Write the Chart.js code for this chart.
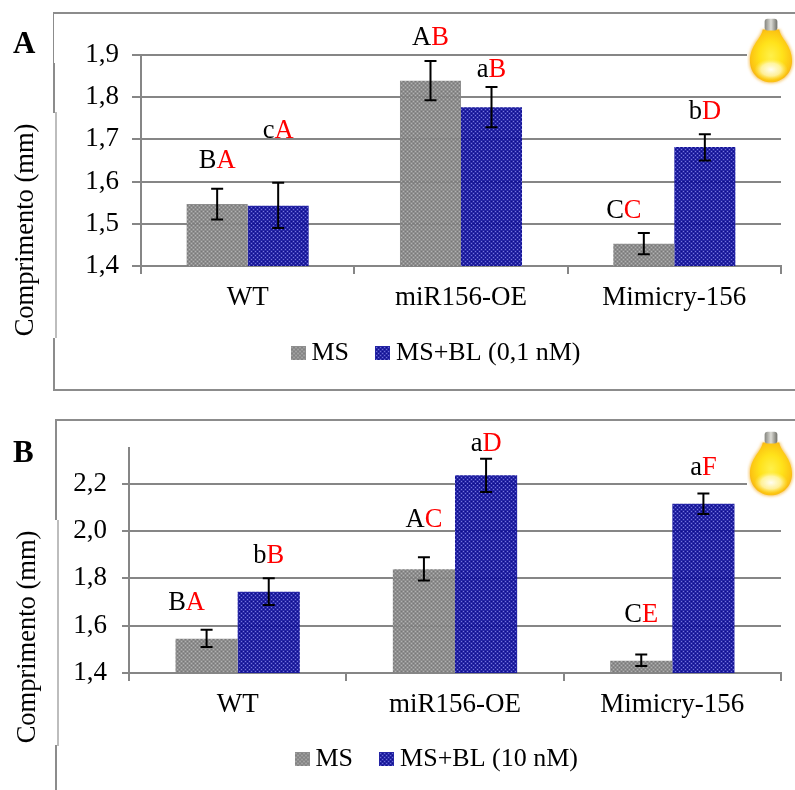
<!DOCTYPE html>
<html>
<head>
<meta charset="utf-8">
<title>Comprimento</title>
<script src="https://cdn.jsdelivr.net/npm/chart.js@4"></script>
<style>
  html, body { margin: 0; background: #fff; }
  #page { position: relative; width: 795px; height: 790px; overflow: hidden; }
  canvas { position: absolute; left: 0; }
  #chartA { top: 0; }
  #chartB { top: 400px; }
  .rule { position: absolute; background: #8c8c8c; }
  .rule.soft { background: #bdbdbd; }
  .bulb { position: absolute; left: 747px; width: 48px; height: 72px; }
</style>
</head>
<body>
<div id="page">
  <!-- frame left over from the pasted figure panels -->
  <div class="rule" style="left:53px;top:12px;width:742px;height:2px"></div>
  <div class="rule" style="left:53px;top:389px;width:742px;height:2px"></div>
  <div class="rule" style="left:53px;top:13px;width:1px;height:50px"></div>
  <div class="rule" style="left:53px;top:63px;width:2px;height:50px"></div>
  <div class="rule soft" style="left:55px;top:112px;width:2px;height:226px"></div>
  <div class="rule" style="left:53px;top:338px;width:2px;height:52px"></div>
  <div class="rule" style="left:55px;top:419px;width:740px;height:2px"></div>
  <div class="rule" style="left:55px;top:420px;width:2px;height:100px"></div>
  <div class="rule soft" style="left:57px;top:520px;width:2px;height:226px"></div>
  <div class="rule" style="left:55px;top:745px;width:2px;height:45px"></div>

  <canvas id="chartA" width="795" height="400" aria-label="Comprimento (mm), painel A"></canvas>
  <canvas id="chartB" width="795" height="390" aria-label="Comprimento (mm), painel B"></canvas>

  <svg class="bulb" style="top:15px" viewBox="0 0 49 72"><use href="#bulb"></use></svg>
  <svg class="bulb" style="top:428px" viewBox="0 0 49 72"><use href="#bulb"></use></svg>
  <svg width="0" height="0" style="position:absolute">
    <defs>
      <radialGradient id="bulbBody" cx="0.5" cy="0.5" r="0.6">
        <stop offset="0" stop-color="#fff04a"></stop>
        <stop offset="0.45" stop-color="#ffe21a"></stop>
        <stop offset="0.8" stop-color="#fcc412"></stop>
        <stop offset="1" stop-color="#eb9f20"></stop>
      </radialGradient>
      <radialGradient id="bulbLow" cx="0.5" cy="0.5" r="0.5">
        <stop offset="0" stop-color="#ffffff" stop-opacity="0.95"></stop>
        <stop offset="0.6" stop-color="#fffbd0" stop-opacity="0.7"></stop>
        <stop offset="1" stop-color="#fff27a" stop-opacity="0"></stop>
      </radialGradient>
      <linearGradient id="bulbCap" x1="0" x2="1" y1="0" y2="0">
        <stop offset="0" stop-color="#85857f"></stop>
        <stop offset="0.5" stop-color="#dcdcd6"></stop>
        <stop offset="1" stop-color="#6f6f68"></stop>
      </linearGradient>
      <filter id="bulbGlow" x="-20%" y="-20%" width="140%" height="140%">
        <feGaussianBlur stdDeviation="1.8"></feGaussianBlur>
      </filter>
      <g id="bulb">
        <rect x="0" y="0" width="49" height="72" fill="#fff"></rect>
        <path d="M15 14 L34 14 C35 22 47 29 47 46 C47 60 37 69 24.5 69 C12 69 2 60 2 46 C2 29 14 22 15 14 Z" fill="#f7c86a" filter="url(#bulbGlow)"></path>
        <path d="M16 14 L33 14 C34 23 46 30 46 46 C46 59 36 68 24.5 68 C13 68 3 59 3 46 C3 30 15 23 16 14 Z" fill="url(#bulbBody)"></path>
        <ellipse cx="24.5" cy="55" rx="17" ry="11" fill="url(#bulbLow)"></ellipse>
        <rect x="18" y="3" width="13" height="12" rx="3" fill="url(#bulbCap)"></rect>
      </g>
    </defs>
  </svg>
</div>

<script>
const categories = ['WT', 'miR156-OE', 'Mimicry-156'];

// painel A
const labelMsA = 'MS';
const labelBlA = 'MS+BL (0,1 nM)';
const yTicksA = [1.4, 1.5, 1.6, 1.7, 1.8, 1.9];
const msA = [1.547, 1.839, 1.453];
const blA = [1.543, 1.776, 1.682];
const msAHigh = [1.583, 1.886, 1.478];
const msALow = [1.51, 1.793, 1.428];
const blAHigh = [1.597, 1.824, 1.712];
const blALow = [1.49, 1.729, 1.65];
const lettersMsA = ['BA', 'AB', 'CC'];
const lettersBlA = ['cA', 'aB', 'bD'];

// painel B
const labelMsB = 'MS';
const labelBlB = 'MS+BL (10 nM)';
const yTicksB = [1.4, 1.6, 1.8, 2.0, 2.2];
const msB = [1.545, 1.838, 1.452];
const blB = [1.743, 2.235, 2.115];
const msBHigh = [1.583, 1.889, 1.478];
const msBLow = [1.51, 1.791, 1.43];
const blBHigh = [1.8, 2.305, 2.158];
const blBLow = [1.687, 2.164, 2.071];
const lettersMsB = ['BA', 'AC', 'CE'];
const lettersBlB = ['bB', 'aD', 'aF'];

const AXIS_COLOR = '#868686';
const SERIF = '"Liberation Serif", "Times New Roman", serif';

// dotted office-style fill, a bit see-through so the grid shows behind the bars
function makeTile(base, light, dark) {
  const tile = document.createElement('canvas');
  tile.width = 4;
  tile.height = 4;
  const c = tile.getContext('2d');
  c.globalAlpha = 0.93;
  c.fillStyle = base;
  c.fillRect(0, 0, 4, 4);
  c.fillStyle = light;
  c.fillRect(1, 1, 1, 1);
  c.fillRect(3, 3, 1, 1);
  c.fillStyle = dark;
  c.fillRect(3, 1, 1, 1);
  c.fillRect(1, 3, 1, 1);
  return tile;
}

function makeSwatch(tile) {
  const swatch = document.createElement('canvas');
  swatch.width = 15;
  swatch.height = 14;
  const c = swatch.getContext('2d');
  c.fillStyle = c.createPattern(tile, 'repeat');
  c.fillRect(0, 0, 15, 14);
  return swatch;
}

const grayTile = makeTile('#858585', '#b4b4b4', '#767676');
const blueTile = makeTile('#14149e', '#7c7ce0', '#0c0c88');

// error bars, significance letters, side title and panel letter
const panelExtras = {
  id: 'panelExtras',
  afterLayout(chart, args, opts) {
    const legend = chart.legend;
    const w = legend.right - legend.left;
    legend.left = opts.legendLeft;
    legend.right = opts.legendLeft + w;
    legend.top = opts.legendTop;
  },
  afterDatasetsDraw(chart, args, opts) {
    const { ctx, scales: { y } } = chart;
    ctx.save();
    chart.data.datasets.forEach((ds, d) => {
      const bars = chart.getDatasetMeta(d).data;
      bars.forEach((bar, i) => {
        const top = y.getPixelForValue(ds.errHigh[i]);
        const low = y.getPixelForValue(ds.errLow[i]);
        ctx.strokeStyle = '#000';
        ctx.lineWidth = 2;
        ctx.beginPath();
        ctx.moveTo(bar.x, top);
        ctx.lineTo(bar.x, low);
        ctx.moveTo(bar.x - 6, top);
        ctx.lineTo(bar.x + 6, top);
        ctx.moveTo(bar.x - 6, low);
        ctx.lineTo(bar.x + 6, low);
        ctx.stroke();

        // first letter black, second one red
        const place = opts.letterPlace[d][i];
        const pair = ds.letters[i];
        ctx.font = `26.5px ${SERIF}`;
        ctx.textAlign = 'left';
        ctx.textBaseline = 'alphabetic';
        const w0 = ctx.measureText(pair[0]).width;
        const w1 = ctx.measureText(pair[1]).width;
        const x0 = bar.x + place[0] - (w0 + w1) / 2;
        const base = top - place[1];
        ctx.fillStyle = '#000';
        ctx.fillText(pair[0], x0, base);
        ctx.fillStyle = '#ff0000';
        ctx.fillText(pair[1], x0 + w0, base);
      });
    });

    ctx.fillStyle = '#000';
    ctx.font = `bold 31px ${SERIF}`;
    ctx.textAlign = 'left';
    ctx.fillText(opts.panel, 13, opts.panelBase);

    ctx.save();
    ctx.translate(opts.titleX, opts.titleY);
    ctx.rotate(-Math.PI / 2);
    ctx.font = `26.5px ${SERIF}`;
    ctx.textAlign = 'center';
    ctx.fillText('Comprimento (mm)', 0, 0);
    ctx.restore();
    ctx.restore();
  },
};

function drawPanel(id, cfg) {
  return new Chart(document.getElementById(id), {
    type: 'bar',
    data: {
      labels: categories,
      datasets: [
        {
          label: cfg.labelMs,
          data: cfg.ms,
          errHigh: cfg.msHigh,
          errLow: cfg.msLow,
          letters: cfg.lettersMs,
          backgroundColor: (c) => c.chart.ctx.createPattern(grayTile, 'repeat'),
        },
        {
          label: cfg.labelBl,
          data: cfg.bl,
          errHigh: cfg.blHigh,
          errLow: cfg.blLow,
          letters: cfg.lettersBl,
          backgroundColor: (c) => c.chart.ctx.createPattern(blueTile, 'repeat'),
        },
      ],
    },
    options: {
      responsive: false,
      animation: false,
      devicePixelRatio: 1,
      events: [],
      layout: { padding: { left: 0, top: cfg.top, right: 14, bottom: 0 } },
      datasets: { bar: { categoryPercentage: 0.572, barPercentage: 1 } },
      plugins: {
        tooltip: { enabled: false },
        title: { display: false },
        legend: {
          position: 'bottom',
          align: 'start',
          labels: {
            color: '#000',
            font: { family: SERIF, size: 26 },
            usePointStyle: true,
            boxWidth: 1,
            boxHeight: 14,
            padding: cfg.legendGap,
            generateLabels: (chart) => chart.data.datasets.map((ds, i) => ({
              text: ds.label,
              datasetIndex: i,
              pointStyle: makeSwatch(i === 0 ? grayTile : blueTile),
              fontColor: '#000',
              lineWidth: 0,
              strokeStyle: 'transparent',
              fillStyle: 'transparent',
            })),
          },
        },
        panelExtras: {
          panel: cfg.panel,
          panelBase: cfg.panelBase,
          titleX: cfg.titleX,
          titleY: cfg.titleY,
          legendLeft: cfg.legendLeft,
          legendTop: cfg.legendTop,
          letterPlace: cfg.letterPlace,
        },
      },
      scales: {
        x: {
          afterFit: (scale) => {
            scale.height = cfg.below - scale.chart.legend.height;
          },
          grid: {
            color: AXIS_COLOR,
            lineWidth: 2,
            drawOnChartArea: false,
            tickLength: 8,
          },
          border: { color: AXIS_COLOR, width: 2 },
          ticks: {
            color: '#000',
            padding: 8,
            maxRotation: 0,
            font: { family: SERIF, size: 27 },
          },
        },
        y: {
          min: cfg.yMin,
          max: cfg.yMax,
          afterFit: (scale) => {
            scale.width = cfg.left;
          },
          afterBuildTicks: (scale) => {
            scale.ticks = cfg.yTicks.map((value) => ({ value }));
          },
          grid: { color: AXIS_COLOR, lineWidth: 2, tickLength: cfg.tickLen },
          border: { color: AXIS_COLOR, width: 2 },
          ticks: {
            color: '#000',
            padding: cfg.tickPad,
            font: { family: SERIF, size: 27 },
            callback: (v) => v.toFixed(1).replace('.', ','),
          },
        },
      },
    },
    plugins: [panelExtras],
  });
}

drawPanel('chartA', {
  panel: 'A', panelBase: 53, titleX: 33, titleY: 230,
  top: 55, left: 141, below: 134, tickLen: 9, tickPad: 13,
  yMin: 1.4, yMax: 1.9, yTicks: yTicksA,
  labelMs: labelMsA, labelBl: labelBlA,
  ms: msA, bl: blA, msHigh: msAHigh, msLow: msALow, blHigh: blAHigh, blLow: blALow,
  lettersMs: lettersMsA, lettersBl: lettersBlA,
  legendLeft: 264.5, legendTop: 307, legendGap: 33,
  // [dx from bar centre, lift above the error bar]
  letterPlace: [
    [[0, 21], [0, 16], [-20, 15]],
    [[0, 45], [0, 10], [0, 15]],
  ],
});

drawPanel('chartB', {
  panel: 'B', panelBase: 62, titleX: 35, titleY: 237,
  top: 48, left: 129, below: 117, tickLen: 7, tickPad: 15,
  yMin: 1.4, yMax: 2.35, yTicks: yTicksB,
  labelMs: labelMsB, labelBl: labelBlB,
  ms: msB, bl: blB, msHigh: msBHigh, msLow: msBLow, blHigh: blBHigh, blLow: blBLow,
  lettersMs: lettersMsB, lettersBl: lettersBlB,
  legendLeft: 268.5, legendTop: 313, legendGap: 33,
  letterPlace: [
    [[-20, 20], [0, 30], [0, 33]],
    [[0, 15], [0, 8], [0, 18]],
  ],
});
</script>
</body>
</html>
